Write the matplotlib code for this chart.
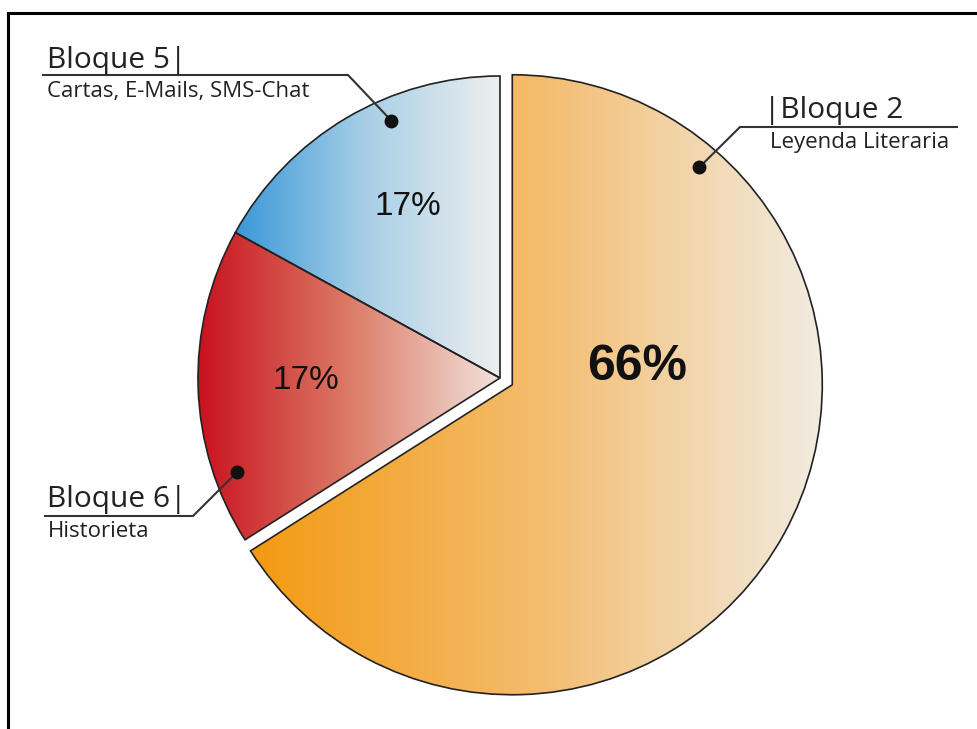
import numpy as np
import matplotlib
matplotlib.use("Agg")
from matplotlib import pyplot as plt
from matplotlib.colors import LinearSegmentedColormap

# datos
porcentajes = [66, 17, 17]
etiquetasPct = ['66%', '17%', '17%']
titulos = ['|Bloque 2', 'Bloque 6|', 'Bloque 5|']
subtitulos = ['Leyenda Literaria', 'Historieta', 'Cartas, E-Mails, SMS-Chat']

# colores de degradado (izquierda -> derecha)
degradados = [['#F39A12', '#F4BC6E', '#F1ECE2'],
              ['#C8101E', '#DC7A66', '#F2E2DC'],
              ['#3A98D8', '#A9CFE6', '#EDEFEF']]

H = 729  # alto en pixeles, para pasar de coordenadas de imagen a datos


def py(y):
    return H - y


fig = plt.figure(figsize=(9.78, 7.29), dpi=100)
ax = fig.add_axes([0, 0, 1, 1])

# explode va en unidades de datos (pixeles)
wedges, _ = ax.pie(porcentajes, startangle=90, counterclock=False,
                   center=(500, py(378)), radius=302,
                   explode=[14, 0, 0],
                   wedgeprops=dict(facecolor='none', edgecolor='#222222', linewidth=1.2, zorder=3))
wedges[0].set_radius(310)  # el sector grande sobresale un poco
ax.set_xlim(0, 978)
ax.set_ylim(0, H)
ax.set_aspect('equal')
ax.axis('off')

# degradado horizontal recortado a cada sector
for w, cols in zip(wedges, degradados):
    verts = w.get_patch_transform().transform(w.get_path().vertices)
    x0, x1 = verts[:, 0].min(), verts[:, 0].max()
    y0, y1 = verts[:, 1].min(), verts[:, 1].max()
    cmap = LinearSegmentedColormap.from_list('g', cols)
    grad = np.linspace(0, 1, 256).reshape(1, -1)
    im = ax.imshow(grad, cmap=cmap, extent=(x0, x1, y0, y1), aspect='auto', zorder=2, interpolation='bilinear')
    im.set_clip_path(w)
ax.set_xlim(0, 978)
ax.set_ylim(0, H)

# porcentajes
posPct = [(637, 367), (306, 380), (408, 206)]
for (x, y), t, i in zip(posPct, etiquetasPct, range(3)):
    ax.text(x, py(y), t, ha='center', va='center', family='Liberation Sans',
            fontsize=36 if i == 0 else 24, fontweight='bold' if i == 0 else 'normal',
            color='#111111', zorder=5)

# lineas guia y etiquetas
angDot = [49.3, 199.7, 112.9]
guias = [[(957, 127), (740, 127)],
         [(45, 516), (193, 516)],
         [(43, 75), (348, 75)]]
posTitulo = [(764, 118), (47, 507), (47, 68)]
posSub = [(770, 148), (48, 537), (47, 97)]
for w, a, g, pt, ps, t, s in zip(wedges, angDot, guias, posTitulo, posSub, titulos, subtitulos):
    cx, cy = w.center
    dx = cx + 0.925 * w.r * np.cos(np.radians(a))
    dy = cy + 0.925 * w.r * np.sin(np.radians(a))
    xs = [g[0][0], g[1][0], dx]
    ys = [py(g[0][1]), py(g[1][1]), dy]
    ax.plot(xs, ys, color='#333333', lw=1.5, zorder=6, solid_joinstyle='miter')
    ax.plot(dx, dy, 'o', color='#111111', ms=9, zorder=7)
    ax.text(pt[0], py(pt[1]), t, ha='left', va='baseline', family='Open Sans',
            fontsize=21.5, color='#222222', zorder=6)
    ax.text(ps[0], py(ps[1]), s, ha='left', va='baseline', family='Open Sans',
            fontsize=16, color='#222222', zorder=6)

# marco (arriba e izquierda)
ax.plot([8, 8, 978], [0, py(13), py(13)], color='black', lw=2.2, zorder=8,
        solid_joinstyle='miter', clip_on=False)

fig.savefig('out.png', dpi=100)
